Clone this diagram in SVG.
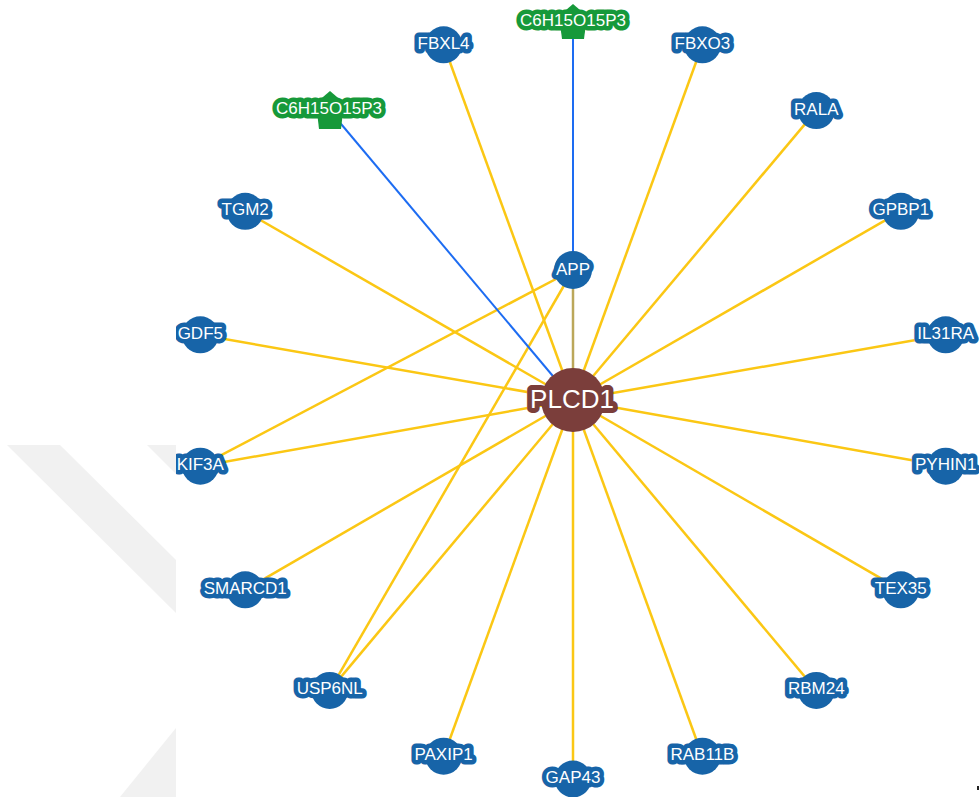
<svg xmlns="http://www.w3.org/2000/svg" width="979" height="797" viewBox="0 0 979 797">
  <defs>
    <style>
      .bg { fill: #ffffff; }
      .mark { fill: #f1f1f1; }
      .e-gene { stroke: #fbc714; stroke-width: 2.5; fill: none; }
      .e-app { stroke: #bba75a; stroke-width: 2.5; fill: none; }
      .e-chem { stroke: #1d6cf2; stroke-width: 2; fill: none; }
      .gene circle { fill: #1764a8; }
      .gene text { fill: #ffffff; stroke: #1764a8; stroke-width: 9; stroke-linejoin: round; paint-order: stroke;
                   font-family: "Liberation Sans", Arial, sans-serif; font-size: 17px; text-anchor: middle; }
      .chem polygon { fill: #16993a; }
      .chem text { fill: #ffffff; stroke: #16993a; stroke-width: 9; stroke-linejoin: round; paint-order: stroke;
                   font-family: "Liberation Sans", Arial, sans-serif; font-size: 17px; text-anchor: middle; }
      .hub circle { fill: #7b3e3b; }
      .hub text { fill: #ffffff; stroke: #7b3e3b; stroke-width: 10; stroke-linejoin: round; paint-order: stroke;
                  font-family: "Liberation Sans", Arial, sans-serif; font-size: 26px; text-anchor: middle; }
    </style>
    <clipPath id="panel">
      <rect x="176" y="0" width="803" height="797"/>
    </clipPath>
  </defs>

  <!-- page background with faint watermark strokes -->
  <rect class="bg" x="0" y="0" width="979" height="797"/>
  <g id="watermark">
    <polygon class="mark" points="7,445 60,445 176,560 176,613"/>
    <polygon class="mark" points="147,445 176,445 176,474"/>
    <polygon class="mark" points="176,728 120,797 176,797"/>
  </g>

  <g id="network" clip-path="url(#panel)">
    <rect class="bg" x="176" y="0" width="803" height="797"/>

    <g id="edges">
      <!-- PLCD1 interactions -->
      <line class="e-gene" x1="573" y1="400" x2="443.6" y2="44.8"/>
      <line class="e-gene" x1="573" y1="400" x2="702.4" y2="44.8"/>
      <line class="e-gene" x1="573" y1="400" x2="816.3" y2="110.6"/>
      <line class="e-gene" x1="573" y1="400" x2="900.8" y2="211.3"/>
      <line class="e-gene" x1="573" y1="400" x2="945.7" y2="334.8"/>
      <line class="e-gene" x1="573" y1="400" x2="945.7" y2="466.2"/>
      <line class="e-gene" x1="573" y1="400" x2="900.8" y2="589.8"/>
      <line class="e-gene" x1="573" y1="400" x2="816.3" y2="690.4"/>
      <line class="e-gene" x1="573" y1="400" x2="702.4" y2="756.2"/>
      <line class="e-gene" x1="573" y1="400" x2="573" y2="779"/>
      <line class="e-gene" x1="573" y1="400" x2="443.6" y2="756.2"/>
      <line class="e-gene" x1="573" y1="400" x2="329.7" y2="690.4"/>
      <line class="e-gene" x1="573" y1="400" x2="245.2" y2="589.8"/>
      <line class="e-gene" x1="573" y1="400" x2="200.3" y2="466.2"/>
      <line class="e-gene" x1="573" y1="400" x2="200.3" y2="334.8"/>
      <line class="e-gene" x1="573" y1="400" x2="245.2" y2="211.3"/>
      <!-- APP interactions -->
      <line class="e-gene" x1="573" y1="270" x2="200.3" y2="466.2"/>
      <line class="e-gene" x1="573" y1="270" x2="329.7" y2="690.4"/>
      <line class="e-app" x1="573" y1="270" x2="573" y2="400"/>
      <!-- chemical links -->
      <line class="e-chem" x1="573" y1="30" x2="573" y2="270"/>
      <line class="e-chem" x1="331" y1="112" x2="573" y2="400"/>
    </g>

    <g id="nodes">
      <g id="n-c6-top" class="chem">
        <polygon points="573,4 587,16 584,39 562,39 559,16"/>
        <text x="573" y="26">C6H15O15P3</text>
      </g>
      <g id="n-c6-left" class="chem">
        <polygon points="330,91 344,103 341,129 319,129 316,103"/>
        <text x="329" y="113.5">C6H15O15P3</text>
      </g>
      <g id="n-FBXL4" class="gene"><circle cx="443.6" cy="44.8" r="18.5"/><text x="443.6" y="48.8">FBXL4</text></g>
      <g id="n-FBXO3" class="gene"><circle cx="702.4" cy="44.8" r="18.5"/><text x="702.4" y="48.8">FBXO3</text></g>
      <g id="n-RALA" class="gene"><circle cx="816.3" cy="110.6" r="18.5"/><text x="816.3" y="114.6">RALA</text></g>
      <g id="n-GPBP1" class="gene"><circle cx="900.8" cy="211.3" r="18.5"/><text x="900.8" y="215.3">GPBP1</text></g>
      <g id="n-IL31RA" class="gene"><circle cx="945.7" cy="334.8" r="18.5"/><text x="945.7" y="338.8">IL31RA</text></g>
      <g id="n-PYHIN1" class="gene"><circle cx="945.7" cy="466.2" r="18.5"/><text x="945.7" y="470.2">PYHIN1</text></g>
      <g id="n-TEX35" class="gene"><circle cx="900.8" cy="589.8" r="18.5"/><text x="900.8" y="593.8">TEX35</text></g>
      <g id="n-RBM24" class="gene"><circle cx="816.3" cy="690.4" r="18.5"/><text x="816.3" y="694.4">RBM24</text></g>
      <g id="n-RAB11B" class="gene"><circle cx="702.4" cy="756.2" r="18.5"/><text x="702.4" y="760.2">RAB11B</text></g>
      <g id="n-GAP43" class="gene"><circle cx="573" cy="779" r="18.5"/><text x="573" y="783">GAP43</text></g>
      <g id="n-PAXIP1" class="gene"><circle cx="443.6" cy="756.2" r="18.5"/><text x="443.6" y="760.2">PAXIP1</text></g>
      <g id="n-USP6NL" class="gene"><circle cx="329.7" cy="690.4" r="18.5"/><text x="329.7" y="694.4">USP6NL</text></g>
      <g id="n-SMARCD1" class="gene"><circle cx="245.2" cy="589.8" r="18.5"/><text x="245.2" y="593.8">SMARCD1</text></g>
      <g id="n-KIF3A" class="gene"><circle cx="200.3" cy="466.2" r="18.5"/><text x="200.3" y="470.2">KIF3A</text></g>
      <g id="n-GDF5" class="gene"><circle cx="200.3" cy="334.8" r="18.5"/><text x="200.3" y="338.8">GDF5</text></g>
      <g id="n-TGM2" class="gene"><circle cx="245.2" cy="211.3" r="18.5"/><text x="245.2" y="215.3">TGM2</text></g>
      <g id="n-APP" class="gene"><circle cx="573" cy="270" r="19"/><text x="573" y="275">APP</text></g>
      <g id="n-PLCD1" class="hub"><circle cx="573" cy="400" r="32"/><text x="572" y="407.5">PLCD1</text></g>
    </g>
  </g>

  <rect x="977" y="786" width="2" height="4" fill="#222222"/>
</svg>
